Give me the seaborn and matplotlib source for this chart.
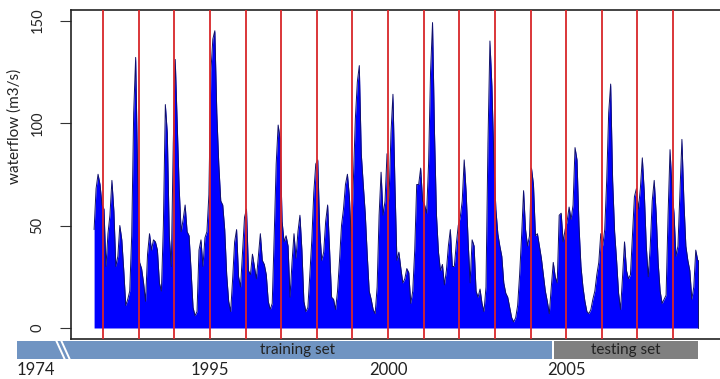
import numpy as np
import pandas as pd
import matplotlib
matplotlib.use("Agg")
import matplotlib.pyplot as plt
import seaborn as sns

# ---------------- data ----------------
START_YEAR = 1991.75          # 1 Oct 1991 (hydrological year start)
STEPS_PER_YEAR = 18           # samples per year

# waterflow (m3/s), one row per hydrological year (Oct-Sep)
flow_1992 = [48, 68, 75, 70, 60, 58, 30, 46, 55, 72, 57, 30, 35, 50, 43, 28, 11, 14]
flow_1993 = [18, 45, 105, 132, 75, 32, 29, 22, 13, 36, 46, 38, 43, 42, 38, 22, 18, 50]
flow_1994 = [109, 95, 45, 30, 90, 131, 100, 68, 47, 53, 60, 47, 45, 28, 10, 6, 8, 38]
flow_1995 = [43, 30, 44, 47, 65, 125, 141, 145, 105, 80, 62, 60, 48, 26, 13, 8, 24, 42]
flow_1996 = [48, 25, 20, 37, 54, 58, 28, 26, 36, 30, 24, 35, 46, 33, 31, 26, 13, 9]
flow_1997 = [12, 45, 80, 99, 92, 52, 42, 45, 40, 15, 32, 46, 34, 47, 55, 38, 13, 8]
flow_1998 = [10, 26, 43, 66, 80, 82, 48, 33, 37, 52, 60, 38, 15, 14, 9, 18, 33, 50]
flow_1999 = [58, 70, 75, 64, 42, 72, 102, 120, 128, 85, 70, 56, 36, 18, 14, 9, 7, 20]
flow_2000 = [55, 76, 55, 62, 85, 62, 95, 114, 70, 33, 37, 29, 22, 24, 29, 27, 12, 18]
flow_2001 = [38, 70, 70, 78, 62, 60, 56, 80, 125, 149, 95, 55, 37, 28, 31, 21, 28, 40]
flow_2002 = [48, 30, 30, 41, 50, 54, 62, 82, 66, 42, 22, 43, 40, 18, 15, 19, 12, 8]
flow_2003 = [20, 90, 140, 118, 82, 58, 46, 40, 35, 22, 17, 15, 10, 5, 3, 5, 11, 26]
flow_2004 = [45, 67, 48, 40, 45, 78, 70, 45, 46, 40, 34, 26, 18, 13, 7, 20, 32, 25]
flow_2005 = [22, 55, 56, 42, 48, 52, 59, 53, 60, 88, 82, 50, 30, 20, 13, 8, 7, 9]
flow_2006 = [14, 18, 26, 32, 46, 40, 48, 72, 105, 119, 72, 47, 33, 17, 9, 25, 42, 28]
flow_2007 = [24, 26, 45, 64, 68, 58, 68, 83, 66, 40, 25, 40, 62, 72, 56, 32, 18, 12]
flow_2008 = [14, 16, 55, 87, 68, 56, 35, 40, 66, 92, 62, 40, 33, 28, 14, 20, 38, 33]

flow_rows = [flow_1992, flow_1993, flow_1994, flow_1995, flow_1996, flow_1997,
             flow_1998, flow_1999, flow_2000, flow_2001, flow_2002, flow_2003,
             flow_2004, flow_2005, flow_2006, flow_2007, flow_2008]

year_marks = list(range(1992, 2009))          # red lines: 1 January of each year
yticks = [0, 50, 100, 150]
period_names = ["training set", "testing set"]
train_end = 2004.6
test_end = 2008.7
xtick_years = [1995, 2000, 2005]
xtick_labels = ["1995", "2000", "2005"]
first_label = "1974"

flow = np.concatenate([np.array(r, dtype=float) for r in flow_rows])
t = START_YEAR + np.arange(len(flow)) / STEPS_PER_YEAR
df = pd.DataFrame({"year": t, "flow": flow})

# ---------------- style ----------------
sns.set_style("white")
plt.rcParams["font.family"] = ["Lato", "DejaVu Sans"]

W, H = 720, 379
fig = plt.figure(figsize=(W / 100, H / 100), dpi=100)

PX_PER_YEAR = 35.625
X0_YEAR = 1992 - 103 / PX_PER_YEAR      # year at the left figure edge

ax_l, ax_r, ax_t, ax_b = 71, 720, 10, 339
ax = fig.add_axes([ax_l / W, 1 - ax_b / H, (ax_r - ax_l) / W, (ax_b - ax_t) / H])

ax.fill_between(df["year"], 0, df["flow"], color="#0000FF", linewidth=0, zorder=2)
sns.lineplot(data=df, x="year", y="flow", ax=ax, color="#10106A", linewidth=0.7, zorder=3)
ax.plot([t[-1], t[-1]], [0, flow[-1]], color="#10106A", lw=0.7, zorder=3)

for yr in year_marks:
    ax.axvline(yr, color="#D8262A", lw=1.3, zorder=4)

ax.set_xlim(X0_YEAR + ax_l / PX_PER_YEAR, X0_YEAR + ax_r / PX_PER_YEAR)
ax.set_ylim(-(ax_b - 328) / 2.05, (328 - ax_t) / 2.05)
ax.set_yticks(yticks)
ax.set_yticklabels([str(v) for v in yticks], rotation=90, va="center", fontsize=10.5)
ax.tick_params(axis="y", left=True, length=8, width=0.8, color="#333333", pad=11)
ax.set_xticks([])
ax.set_xlabel("")
ax.set_ylabel("")
for s in ["left", "top", "bottom"]:
    ax.spines[s].set_visible(True)
    ax.spines[s].set_color("#222222")
    ax.spines[s].set_linewidth(1.2)
ax.spines["right"].set_visible(False)

fig.text(15 / W, 1 - 126 / H, "waterflow (m3/s)", rotation=90, ha="center", va="center",
         fontsize=11, color="#222222")

# ---------------- period bar ----------------
bar_t, bar_b = 341, 359
ax2 = fig.add_axes([0, 1 - bar_b / H, 1, (bar_b - bar_t) / H])
ax2.set_xlim(X0_YEAR, X0_YEAR + W / PX_PER_YEAR)
ax2.set_ylim(0, 1)
train_start_disp = X0_YEAR + 17 / PX_PER_YEAR
test_start = train_end + 2 / PX_PER_YEAR
ax2.axvspan(train_start_disp, train_end, color="#7094C2", lw=0)
ax2.axvspan(test_start, test_end, color="#808080", lw=0)
# broken-axis slashes
for px in (56, 61):
    x_top = X0_YEAR + px / PX_PER_YEAR
    x_bot = X0_YEAR + (px + 9) / PX_PER_YEAR
    ax2.plot([x_top, x_bot], [1.05, -0.05], color="white", lw=1.4, solid_capstyle="butt")
ax2.text(X0_YEAR + 298 / PX_PER_YEAR, 0.5, period_names[0], ha="center", va="center",
         fontsize=11, color="#222222")
ax2.text((test_start + test_end) / 2, 0.5, period_names[1], ha="center", va="center",
         fontsize=11, color="#222222")
label_pos = [X0_YEAR + 36 / PX_PER_YEAR] + xtick_years
ax2.set_xticks(label_pos)
ax2.set_xticklabels([first_label] + xtick_labels, fontsize=12, color="#222222")
ax2.tick_params(axis="x", length=0, pad=2.5)
ax2.set_yticks([])
for s in ax2.spines.values():
    s.set_visible(False)

fig.savefig("out.png", dpi=100)
